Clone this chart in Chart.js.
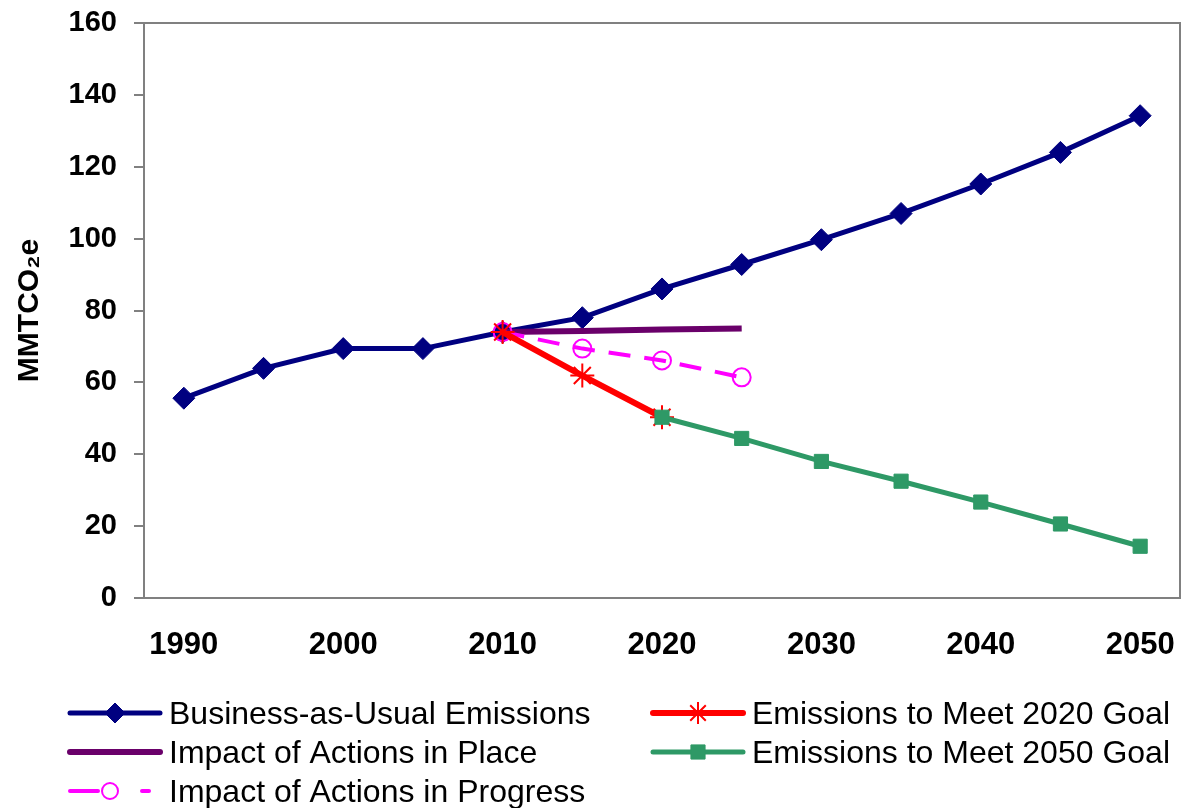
<!DOCTYPE html>
<html>
<head>
<meta charset="utf-8">
<script src="https://cdn.jsdelivr.net/npm/chart.js@4.4.0/dist/chart.umd.min.js"></script>
<style>
  html, body { margin: 0; padding: 0; background: #fff; }
  #wrap { width: 1194px; height: 808px; }
</style>
</head>
<body>
<div id="wrap"><canvas id="myChart"></canvas></div>
<script>
    // data
    const years = ['1990', '1995', '2000', '2005', '2010', '2015', '2020', '2025', '2030', '2035', '2040', '2045', '2050'];
    const yTicks = [0, 20, 40, 60, 80, 100, 120, 140, 160];
    const businessAsUsual = [55.6, 63.9, 69.4, 69.4, 74, 78, 86, 92.8, 99.7, 107, 115.2, 124, 134.2];
    const actionsInPlace = [null, null, null, null, 74, 74.3, 74.7, 75, null, null, null, null, null];
    const actionsInProgress = [null, null, null, null, 74, 69.4, 66.1, 61.4, null, null, null, null, null];
    const goal2020 = [null, null, null, null, 74, 61.9, 50.3, null, null, null, null, null, null];
    const goal2050 = [null, null, null, null, null, null, 50.3, 44.4, 38, 32.5, 26.7, 20.6, 14.4];

    const FONT = "'Liberation Sans', Arial, Helvetica, sans-serif";

    const data = {
      labels: years,
      datasets: [{
        label: 'Business-as-Usual Emissions',
        data: businessAsUsual,
        borderColor: '#000080',
        backgroundColor: '#000080',
        borderWidth: 5,
        pointStyle: 'rectRot',
        pointRadius: 11,
        pointBorderWidth: 1,
        legendRadius: 10,
        order: 5
      },
      {
        label: 'Impact of Actions in Place',
        data: actionsInPlace,
        borderColor: '#6a006a',
        backgroundColor: '#6a006a',
        borderWidth: 6,
        pointRadius: 0,
        order: 4
      },
      {
        label: 'Impact of Actions in Progress',
        data: actionsInProgress,
        borderColor: '#ff00ff',
        backgroundColor: 'rgba(0,0,0,0)',
        borderWidth: 4,
        borderDash: [22, 14],
        pointStyle: 'circle',
        pointRadius: 9,
        pointBorderWidth: 2,
        legendRadius: 8,
        order: 3
      },
      {
        label: 'Emissions to Meet 2020 Goal',
        data: goal2020,
        borderColor: '#ff0000',
        backgroundColor: '#ff0000',
        borderWidth: 6,
        pointStyle: 'star',
        pointRadius: 12,
        pointBorderWidth: 2,
        legendRadius: 11,
        order: 2
      },
      {
        label: 'Emissions to Meet 2050 Goal',
        data: goal2050,
        borderColor: '#2e9966',
        backgroundColor: '#2e9966',
        borderWidth: 5,
        pointStyle: 'rect',
        pointRadius: 10,
        pointBorderWidth: 1,
        legendRadius: 10,
        order: 1
      }]
    };

    // frame round the plot area
    const framePlugin = {
      id: 'frame',
      beforeDatasetsDraw(chart) {
        const { ctx, chartArea: a } = chart;
        ctx.save();
        ctx.strokeStyle = '#808080';
        ctx.lineWidth = 2;
        ctx.strokeRect(a.left, a.top, a.right - a.left, a.bottom - a.top);
        ctx.restore();
      }
    };

    // legend in two columns under the chart
    const legendPlugin = {
      id: 'colLegend',
      afterDraw(chart) {
        const ctx = chart.ctx;
        const cols = [{ x: 70, items: [0, 1, 2] }, { x: 653, items: [3, 4] }];
        const rowTop = 713, rowGap = 39, lineLen = 90;
        ctx.save();
        cols.forEach(col => {
          col.items.forEach((di, r) => {
            const ds = chart.data.datasets[di];
            const y = rowTop + r * rowGap;
            ctx.save();
            ctx.strokeStyle = ds.borderColor;
            ctx.lineWidth = ds.borderWidth;
            ctx.lineCap = 'round';
            if (ds.borderDash) {
              // short solid lead, the marker and one dash, as in the reference
              ctx.beginPath();
              ctx.moveTo(col.x, y); ctx.lineTo(col.x + 28, y);
              ctx.moveTo(col.x + 72, y); ctx.lineTo(col.x + 79, y);
              ctx.stroke();
            } else {
              ctx.beginPath();
              ctx.moveTo(col.x, y); ctx.lineTo(col.x + lineLen, y);
              ctx.stroke();
            }
            ctx.restore();
            if (ds.pointRadius > 0) {
              ctx.save();
              ctx.fillStyle = ds.backgroundColor;
              ctx.strokeStyle = ds.borderColor;
              ctx.lineWidth = ds.pointBorderWidth;
              const cx = ds.borderDash ? col.x + 40 : col.x + lineLen / 2;
              Chart.helpers.drawPoint(ctx, { pointStyle: ds.pointStyle, radius: ds.legendRadius, borderWidth: ds.pointBorderWidth, rotation: 0 }, cx, y);
              ctx.restore();
            }
            ctx.fillStyle = '#000';
            ctx.font = '32px ' + FONT;
            ctx.textBaseline = 'middle';
            ctx.textAlign = 'left';
            ctx.fillText(ds.label, col.x + 99, y + 2);
          });
        });
        ctx.restore();
      }
    };

    const noScalePadding = s => { s.paddingLeft = 0; s.paddingRight = 0; s.paddingTop = 0; s.paddingBottom = 0; };

    const config = {
      type: 'line',
      data,
      options: {
        responsive: true,
        maintainAspectRatio: false,
        animation: false,
        layout: { padding: { top: 23, right: 9, bottom: 0, left: 0 } },
        plugins: {
          legend: { display: false },
          tooltip: { enabled: false }
        },
        scales: {
          x: {
            type: 'category',
            offset: true,
            grid: { display: false, drawTicks: false },
            border: { display: false },
            ticks: {
              autoSkip: false,
              maxRotation: 0,
              padding: 29,
              color: '#000',
              font: { family: FONT, size: 31, weight: 'bold' },
              callback: (val, i) => (i % 2 === 0 ? years[i] : '')
            },
            afterFit: s => { s.height = 210; noScalePadding(s); }
          },
          y: {
            min: 0,
            max: 160,
            afterBuildTicks: s => { s.ticks = yTicks.map(v => ({ value: v })); },
            grid: { drawOnChartArea: false, drawTicks: true, tickLength: 10, color: '#808080', lineWidth: 2 },
            border: { display: false },
            ticks: {
              padding: 17,
              color: '#000',
              font: { family: FONT, size: 29, weight: 'bold' }
            },
            title: {
              display: true,
              text: 'MMTCO\u2082e',
              color: '#000',
              padding: { top: 12, bottom: 0 },
              font: { family: FONT, size: 30, weight: 'bold' }
            },
            afterFit: s => { s.width = 144; noScalePadding(s); }
          }
        }
      },
      plugins: [framePlugin, legendPlugin]
    };

    const ctx = document.getElementById('myChart');
    const myChart = new Chart(ctx, config);
</script>
</body>
</html>
